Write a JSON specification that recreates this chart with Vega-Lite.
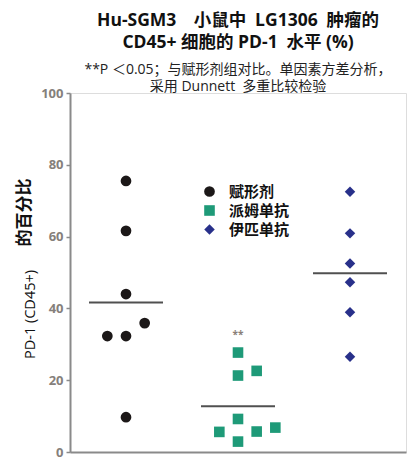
{
  "$schema": "https://vega.github.io/schema/vega-lite/v6.json",
  "width": 336,
  "height": 359,
  "autosize": {"type": "none"},
  "padding": {"left": 70, "top": 93, "right": 3, "bottom": 5},
  "background": "white",
  "title": {
    "text": ["Hu-SGM3\u2003小鼠中\u2002LG1306\u2002肿瘤的", "CD45+ 细胞的 PD-1\u2002水平 (%)"],
    "subtitle": ["**P ＜0.05；与赋形剂组对比。单因素方差分析，", "采用 Dunnett\u2002多重比较检验"],
    "anchor": "middle",
    "font": "Open Sans, Noto Sans CJK SC",
    "fontSize": 17.5,
    "fontWeight": "bold",
    "lineHeight": 22,
    "color": "#111111",
    "subtitleFont": "Open Sans, Noto Sans CJK SC",
    "subtitleFontSize": 14,
    "subtitleLineHeight": 17,
    "subtitleColor": "#222222",
    "subtitlePadding": 12,
    "offset": -7
  },
  "datasets": {
    "pts": [
      {"group": "赋形剂", "slot": 0, "value": 75.5},
      {"group": "赋形剂", "slot": 0, "value": 61.6},
      {"group": "赋形剂", "slot": 0, "value": 44.0},
      {"group": "赋形剂", "slot": 1, "value": 35.9},
      {"group": "赋形剂", "slot": -1, "value": 32.3},
      {"group": "赋形剂", "slot": 0, "value": 32.3},
      {"group": "赋形剂", "slot": 0, "value": 9.7},
      {"group": "派姆单抗", "slot": 0, "value": 27.7},
      {"group": "派姆单抗", "slot": 0, "value": 21.3},
      {"group": "派姆单抗", "slot": 1, "value": 22.6},
      {"group": "派姆单抗", "slot": 0, "value": 9.2},
      {"group": "派姆单抗", "slot": -1, "value": 5.6},
      {"group": "派姆单抗", "slot": 0, "value": 2.9},
      {"group": "派姆单抗", "slot": 1, "value": 5.7},
      {"group": "派姆单抗", "slot": 2, "value": 6.8},
      {"group": "伊匹单抗", "slot": 0, "value": 72.5},
      {"group": "伊匹单抗", "slot": 0, "value": 60.9},
      {"group": "伊匹单抗", "slot": 0, "value": 52.5},
      {"group": "伊匹单抗", "slot": 0, "value": 47.3},
      {"group": "伊匹单抗", "slot": 0, "value": 38.9},
      {"group": "伊匹单抗", "slot": 0, "value": 26.5}
    ],
    "sig": [
      {"group": "派姆单抗", "value": 32.5, "label": "**"}
    ]
  },
  "encoding": {
    "x": {
      "field": "group",
      "type": "nominal",
      "sort": ["赋形剂", "派姆单抗", "伊匹单抗"],
      "scale": {"domain": ["赋形剂", "派姆单抗", "伊匹单抗"], "paddingInner": 0, "paddingOuter": 0},
      "axis": {
        "title": null,
        "labels": false,
        "ticks": false,
        "domainColor": "#8a8a8a",
        "domainWidth": 2
      }
    }
  },
  "layer": [
    {
      "encoding": {
        "y": {
          "field": "value",
          "type": "quantitative",
          "scale": {"domain": [0, 100], "nice": false},
          "axis": {
            "orient": "left",
            "title": "PD-1 (CD45+)",
            "titleFont": "Open Sans",
            "titleFontSize": 14.5,
            "titleFontWeight": "normal",
            "titleColor": "#111111",
            "titleBaseline": "middle",
            "titleX": -40,
            "titleY": 221,
            "values": [0, 20, 40, 60, 80, 100],
            "grid": false,
            "domainColor": "#8a8a8a",
            "domainWidth": 2,
            "tickColor": "#8a8a8a",
            "tickSize": 4,
            "tickWidth": 1.5,
            "labelFont": "Open Sans",
            "labelFontSize": 13,
            "labelFontWeight": "bold",
            "labelColor": "#85807b",
            "labelPadding": 3
          }
        }
      },
      "layer": [
        {
          "data": {"name": "pts"},
          "mark": {"type": "tick", "size": 74, "thickness": 2, "color": "#505050"},
          "encoding": {
            "y": {"aggregate": "mean", "field": "value", "type": "quantitative"}
          }
        },
        {
          "data": {"name": "pts"},
          "mark": {"type": "point", "filled": true, "opacity": 1},
          "encoding": {
            "xOffset": {
              "field": "slot",
              "type": "ordinal",
              "scale": {"domain": [-3, -2, -1, 0, 1, 2, 3], "paddingInner": 0, "paddingOuter": 0}
            },
            "color": {
              "field": "group",
              "type": "nominal",
              "scale": {"domain": ["赋形剂", "派姆单抗", "伊匹单抗"], "range": ["#1c1818", "#1e9a78", "#28308a"]},
              "legend": {
                "title": null,
                "orient": "none",
                "legendX": 132,
                "legendY": 91,
                "labelFont": "Noto Sans CJK SC",
                "labelFontSize": 15,
                "labelFontWeight": "bold",
                "labelColor": "#111111",
                "labelOffset": 12,
                "symbolSize": 120,
                "rowPadding": 3,
                "padding": 0
              }
            },
            "shape": {
              "field": "group",
              "type": "nominal",
              "scale": {"domain": ["赋形剂", "派姆单抗", "伊匹单抗"], "range": ["circle", "square", "diamond"]},
              "legend": null
            },
            "size": {
              "field": "group",
              "type": "nominal",
              "scale": {"domain": ["赋形剂", "派姆单抗", "伊匹单抗"], "range": [115, 110, 200]},
              "legend": null
            }
          }
        }
      ]
    },
    {
      "data": {"name": "sig"},
      "mark": {"type": "text", "fontSize": 10, "fontWeight": "bold", "color": "#8a7f78", "baseline": "middle", "font": "Open Sans"},
      "encoding": {
        "y": {
          "field": "value",
          "type": "quantitative",
          "scale": {"domain": [0, 100], "nice": false},
          "axis": {
            "orient": "left",
            "title": "的百分比",
            "titleFont": "Noto Sans CJK SC",
            "titleFontSize": 17,
            "titleFontWeight": "bold",
            "titleColor": "#111111",
            "titleBaseline": "middle",
            "titleX": -46,
            "titleY": 119,
            "labels": false,
            "ticks": false,
            "domain": false,
            "grid": false
          }
        },
        "text": {"field": "label"}
      }
    }
  ],
  "resolve": {"scale": {"y": "independent"}}
}
